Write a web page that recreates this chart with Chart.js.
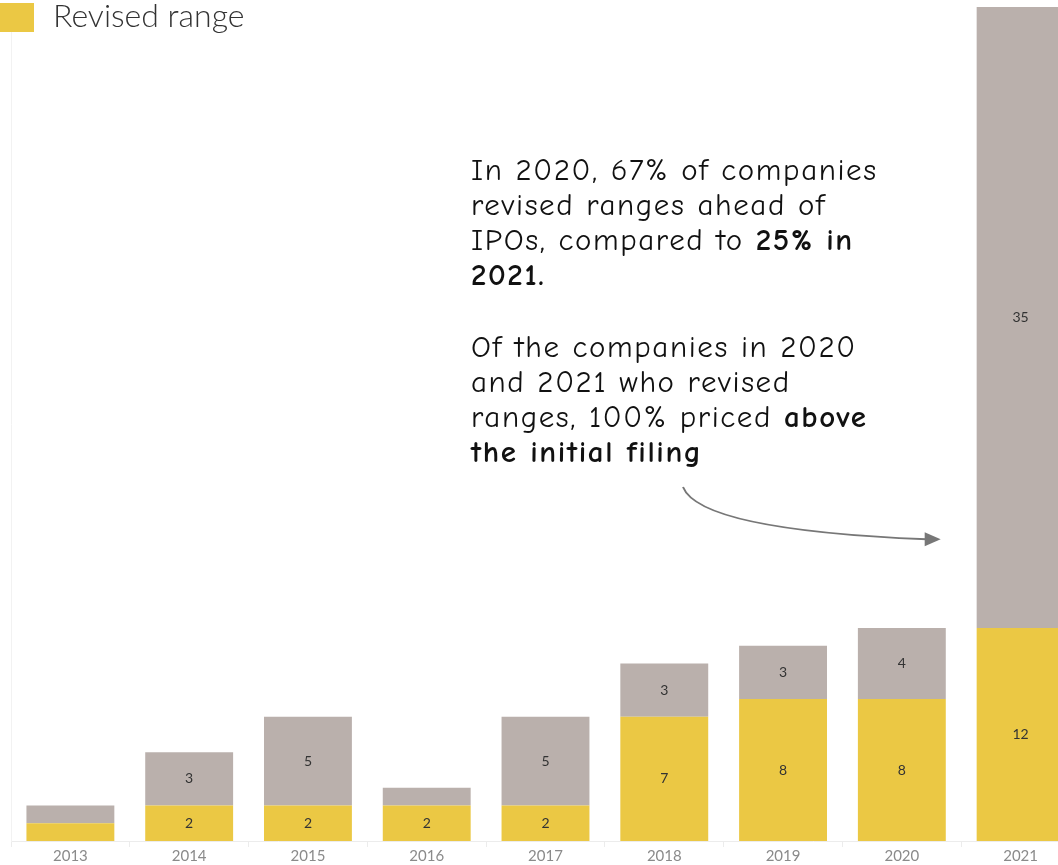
<!DOCTYPE html>
<html>
<head>
<meta charset="utf-8">
<script src="https://cdn.jsdelivr.net/npm/chart.js@4.4.1/dist/chart.umd.min.js"></script>
<style>
  html, body { margin: 0; padding: 0; background: #fff; overflow: hidden; }
  #wrap { position: relative; width: 1058px; height: 865px; overflow: hidden; }
  #chart-box { position: absolute; left: 0; top: 0; width: 1090px; height: 865px; }
  .legend { position: absolute; left: 0; top: 2px; height: 30px; display: flex; align-items: center; font-family: Lato, sans-serif; font-weight: 300; font-size: 32px; color: #333; }
  .legend .sw { width: 34px; height: 29px; background: #EBC844; margin-right: 19px; }
  .legend span { position: relative; top: -3px; }
  .note { position: absolute; left: 471px; font-family: 'Comic Sans MS', 'Comic Neue', 'Noto Sans', sans-serif; font-size: 31px; letter-spacing: 1.6px; line-height: 35px; color: #111; }
  .note b { font-weight: 700; }
</style>
</head>
<body>
<div id="wrap">
  <div id="chart-box"><canvas id="ipo-chart"></canvas></div>
  <div class="legend"><div class="sw"></div><span>Revised range</span></div>
  <div class="note" style="top:153px">In 2020, 67% of companies<br>revised ranges ahead of<br>IPOs, compared to <b>25% in<br>2021.</b></div>
  <div class="note" style="top:330px">Of the companies in 2020<br>and 2021 who revised<br>ranges, 100% priced <b>above<br>the initial filing</b></div>
</div>
<script>
const years = ['2013', '2014', '2015', '2016', '2017', '2018', '2019', '2020', '2021'];
const revised = [1, 2, 2, 2, 2, 7, 8, 8, 12];
const notRevised = [1, 3, 5, 1, 5, 3, 3, 4, 35];

// segment labels, skipped for the thin 1-count slices
const segLabels = {
  id: 'segLabels',
  afterDatasetsDraw(chart) {
    const ctx = chart.ctx;
    ctx.save();
    ctx.font = '14px Lato, sans-serif';
    ctx.fillStyle = '#333';
    ctx.textAlign = 'center';
    ctx.textBaseline = 'middle';
    chart.data.datasets.forEach((ds, di) => {
      chart.getDatasetMeta(di).data.forEach((bar, i) => {
        const v = ds.data[i];
        if (v < 2) return;
        ctx.fillText(String(v), bar.x, (bar.y + bar.base) / 2);
      });
    });
    ctx.restore();
  }
};

// curved pointer from the note to the 2021 bar
const pointer = {
  id: 'pointer',
  afterDraw(chart) {
    const ctx = chart.ctx;
    const y = chart.scales.y;
    const bar = chart.getDatasetMeta(0).data[8];
    const ex = bar.x - bar.width / 2 - 36;
    const ey = y.getPixelForValue(17);
    const sx = 683, sy = 487;
    ctx.save();
    ctx.strokeStyle = '#777';
    ctx.fillStyle = '#777';
    ctx.lineWidth = 2;
    ctx.beginPath();
    ctx.moveTo(sx, sy);
    ctx.quadraticCurveTo(700, 530, ex - 14, ey);
    ctx.stroke();
    ctx.beginPath();
    ctx.moveTo(ex, ey);
    ctx.lineTo(ex - 16, ey - 7);
    ctx.lineTo(ex - 16, ey + 7);
    ctx.closePath();
    ctx.fill();
    ctx.restore();
  }
};

new Chart(document.getElementById('ipo-chart'), {
  type: 'bar',
  data: {
    labels: years,
    datasets: [
      { label: 'Revised range', data: revised, backgroundColor: '#EBC844' },
      { label: 'Not revised', data: notRevised, backgroundColor: '#BAB0AC' }
    ]
  },
  options: {
    responsive: true,
    maintainAspectRatio: false,
    animation: false,
    categoryPercentage: 1,
    barPercentage: 0.74,
    layout: { padding: { top: 7, left: 3, right: 10, bottom: 0 } },
    plugins: { legend: { display: false }, tooltip: { enabled: false } },
    scales: {
      x: {
        stacked: true,
        grid: { display: true, drawOnChartArea: false, drawTicks: true, tickLength: 6, color: '#ececec', offset: true },
        border: { display: true, color: '#ececec' },
        ticks: { color: '#8a8a8a', font: { family: 'Lato', size: 15 }, padding: 0 }
      },
      y: {
        stacked: true,
        min: 0,
        max: 47,
        grid: { display: false },
        border: { display: true, color: '#f2f2f2' },
        ticks: { display: false }
      }
    }
  },
  plugins: [segLabels, pointer]
});
</script>
</body>
</html>
